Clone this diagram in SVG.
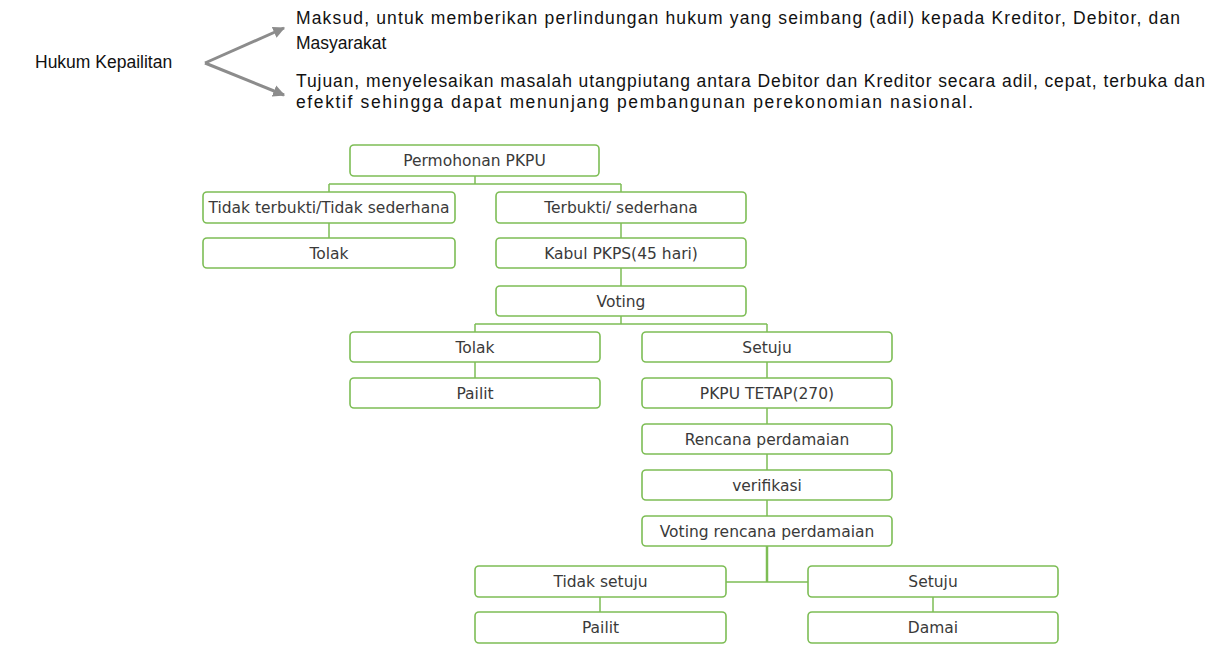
<svg xmlns="http://www.w3.org/2000/svg" width="1215" height="646" viewBox="0 0 1215 646">
<style>
.box{fill:#fff;stroke:#7dbd55;stroke-width:1.6}
.lbl{font-family:"DejaVu Sans","Liberation Sans",sans-serif;font-size:15.5px;fill:#3a3a3a;text-anchor:middle}
.con{stroke:#7dbd55;stroke-width:1.5;fill:none}
.top{font-family:"Liberation Sans",Arial,sans-serif;font-size:17.5px;fill:#111}
.arr{stroke:#8c8c8c;stroke-width:3;fill:none}
</style>
<defs>
<marker id="ah" viewBox="0 0 10 10" refX="9" refY="5" markerWidth="4" markerHeight="4" orient="auto" markerUnits="strokeWidth">
<path d="M0,0 L10,5 L0,10 z" fill="#8c8c8c"/>
</marker>
</defs>
<rect width="1215" height="646" fill="#fff"/>
<g id="header">
<text class="top" x="35" y="68">Hukum Kepailitan</text>
<path class="arr" d="M205,63 L284,28" marker-end="url(#ah)"/>
<path class="arr" d="M205,63 L284,95" marker-end="url(#ah)"/>
<text class="top" x="296" y="24" textLength="884" lengthAdjust="spacing">Maksud, untuk memberikan perlindungan hukum yang seimbang (adil) kepada Kreditor, Debitor, dan</text>
<text class="top" x="296" y="49">Masyarakat</text>
<text class="top" x="296" y="87" textLength="909" lengthAdjust="spacing">Tujuan, menyelesaikan masalah utangpiutang antara Debitor dan Kreditor secara adil, cepat, terbuka dan</text>
<text class="top" x="296" y="108" textLength="677" lengthAdjust="spacing">efektif sehingga dapat menunjang pembangunan perekonomian nasional.</text>
</g>
<g id="connectors">
<path class="con" d="M475,176 V184 M329,184 H621 M329,184 V192 M621,184 V192"/>
<path class="con" d="M329,223 V238"/>
<path class="con" d="M621,223 V238 M621,268 V286"/>
<path class="con" d="M621,316 V324 M475,324 H767 M475,324 V332 M767,324 V332"/>
<path class="con" d="M475,362 V378"/>
<path class="con" d="M767,362 V378 M767,408 V424 M767,454 V470 M767,500 V516"/>
<path class="con" d="M767,546 V582" style="stroke-width:2.5"/>
<path class="con" d="M726,582 H808"/>
<path class="con" d="M600,597 V612 M933,597 V612"/>
</g>
<g id="n1"><rect class="box" x="350" y="145" width="249" height="31" rx="4"/><text class="lbl" x="474.5" y="166">Permohonan PKPU</text></g>
<g id="n2"><rect class="box" x="203" y="192" width="252" height="31" rx="4"/><text class="lbl" x="329" y="213">Tidak terbukti/Tidak sederhana</text></g>
<g id="n3"><rect class="box" x="496" y="192" width="250" height="31" rx="4"/><text class="lbl" x="621" y="213">Terbukti/ sederhana</text></g>
<g id="n4"><rect class="box" x="203" y="238" width="252" height="30" rx="4"/><text class="lbl" x="329" y="258.5">Tolak</text></g>
<g id="n5"><rect class="box" x="496" y="238" width="250" height="30" rx="4"/><text class="lbl" x="621" y="258.5">Kabul PKPS(45 hari)</text></g>
<g id="n6"><rect class="box" x="496" y="286" width="250" height="30" rx="4"/><text class="lbl" x="621" y="306.5">Voting</text></g>
<g id="n7"><rect class="box" x="350" y="332" width="250" height="30" rx="4"/><text class="lbl" x="475" y="352.5">Tolak</text></g>
<g id="n8"><rect class="box" x="642" y="332" width="250" height="30" rx="4"/><text class="lbl" x="767" y="352.5">Setuju</text></g>
<g id="n9"><rect class="box" x="350" y="378" width="250" height="30" rx="4"/><text class="lbl" x="475" y="398.5">Pailit</text></g>
<g id="n10"><rect class="box" x="642" y="378" width="250" height="30" rx="4"/><text class="lbl" x="767" y="398.5">PKPU TETAP(270)</text></g>
<g id="n11"><rect class="box" x="642" y="424" width="250" height="30" rx="4"/><text class="lbl" x="767" y="444.5">Rencana perdamaian</text></g>
<g id="n12"><rect class="box" x="642" y="470" width="250" height="30" rx="4"/><text class="lbl" x="767" y="490.5">verifikasi</text></g>
<g id="n13"><rect class="box" x="642" y="516" width="250" height="30" rx="4"/><text class="lbl" x="767" y="536.5">Voting rencana perdamaian</text></g>
<g id="n14"><rect class="box" x="475" y="566" width="251" height="31" rx="4"/><text class="lbl" x="600.5" y="587">Tidak setuju</text></g>
<g id="n15"><rect class="box" x="808" y="566" width="250" height="31" rx="4"/><text class="lbl" x="933" y="587">Setuju</text></g>
<g id="n16"><rect class="box" x="475" y="612" width="251" height="31" rx="4"/><text class="lbl" x="600.5" y="633">Pailit</text></g>
<g id="n17"><rect class="box" x="808" y="612" width="250" height="31" rx="4"/><text class="lbl" x="933" y="633">Damai</text></g>
</svg>
